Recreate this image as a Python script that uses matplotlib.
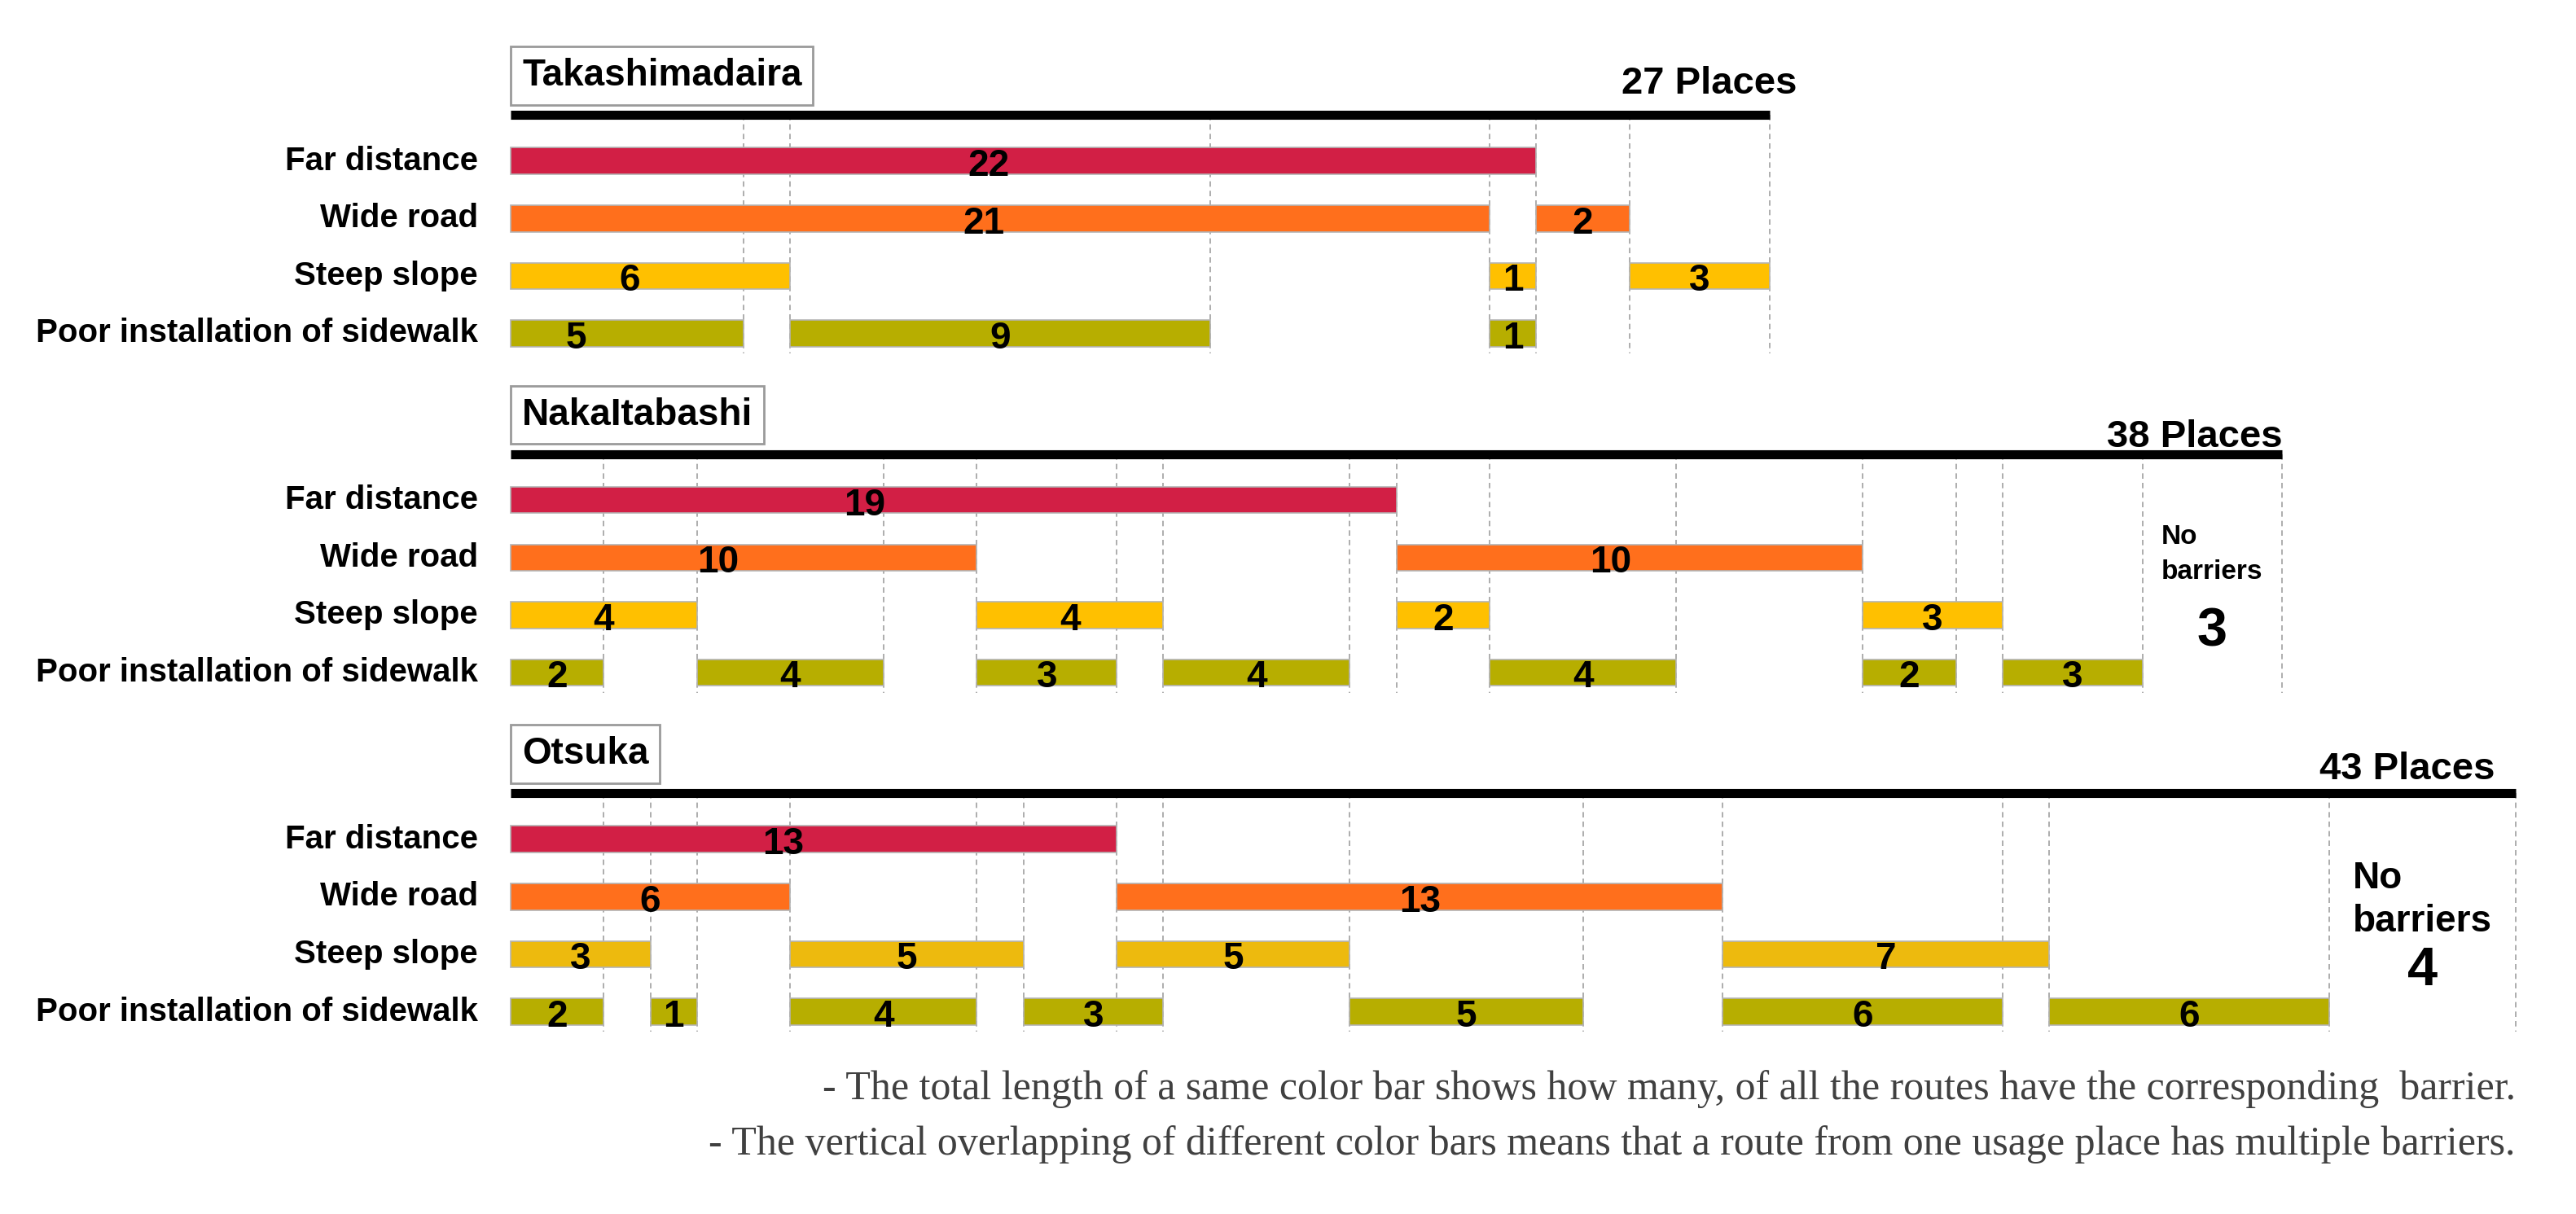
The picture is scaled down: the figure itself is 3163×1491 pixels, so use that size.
import matplotlib.pyplot as plt

plt.rcParams['font.family'] = ['Liberation Sans', 'DejaVu Sans']

categories = ["Far distance", "Wide road", "Steep slope", "Poor installation of sidewalk"]
stations = ["Takashimadaira", "NakaItabashi", "Otsuka"]
totals = [27, 38, 43]
no_barriers = [0, 3, 4]

# (start, count) of every bar piece, one list per barrier
tak_far = [(0, 22)]
tak_wide = [(0, 21), (22, 2)]
tak_steep = [(0, 6), (21, 1), (24, 3)]
tak_poor = [(0, 5), (6, 9), (21, 1)]

nak_far = [(0, 19)]
nak_wide = [(0, 10), (19, 10)]
nak_steep = [(0, 4), (10, 4), (19, 2), (29, 3)]
nak_poor = [(0, 2), (4, 4), (10, 3), (14, 4), (21, 4), (29, 2), (32, 3)]

ots_far = [(0, 13)]
ots_wide = [(0, 6), (13, 13)]
ots_steep = [(0, 3), (6, 5), (13, 5), (26, 7)]
ots_poor = [(0, 2), (3, 1), (6, 4), (11, 3), (18, 5), (26, 6), (33, 6)]

panels = [
    [tak_far, tak_wide, tak_steep, tak_poor],
    [nak_far, nak_wide, nak_steep, nak_poor],
    [ots_far, ots_wide, ots_steep, ots_poor],
]

notes = [
    "- The total length of a same color bar shows how many, of all the routes have the corresponding  barrier.",
    "- The vertical overlapping of different color bars means that a route from one usage place has multiple barriers.",
]

# styling
colors = ["#D21F45", "#FF6F1C", "#FFC000", "#B7AE00"]
otsuka_yellow = "#EDBA0E"
bases = [0, 5.9, 11.8]
nudges = {(0, 0, 0): -0.75, (0, 1, 0): -0.35, (0, 2, 0): -0.45, (0, 3, 0): -1.1,
          (1, 0, 0): -1.9, (1, 1, 0): -0.55, (1, 1, 1): -0.4, (2, 0, 0): -0.65}
places_dx = [0.6, 0.0, -0.43]
places_dy = [-1.17, -0.93, -1.05]
nb_size = [0, 24, 33]
nb_spacing = [1, 1.5, 1.25]
nb_y = [0, 0.95, 1.06]

fig = plt.figure(figsize=(31.63, 14.91), dpi=100)
ax = fig.add_axes([0, 0, 1, 1])
ax.set_xlim(-10.95, 44.30)
ax.set_ylim(18.32, -2.80)
ax.axis('off')

for p, rows in enumerate(panels):
    base = bases[p]
    total = totals[p]
    bounds = {total}
    for i, segs in enumerate(rows):
        c = colors[i]
        if p == 2 and i == 2:
            c = otsuka_yellow
        starts = [s for s, n in segs]
        widths = [n for s, n in segs]
        ax.barh([base + i] * len(segs), widths, left=starts, height=0.46,
                color=c, edgecolor='#b4b4b4', linewidth=1.2, zorder=2)
        for k, (s, n) in enumerate(segs):
            ax.text(s + n / 2 + nudges.get((p, i, k), 0), base + i + 0.09, str(n),
                    ha='center', va='center', fontsize=33, fontweight='bold', zorder=3)
            bounds.update([s, s + n])
        ax.text(-0.7, base + i, categories[i], ha='right', va='center',
                fontsize=29, fontweight='bold')
    bounds.discard(0)
    ax.vlines(sorted(bounds), base - 0.8, base + 3.35, colors='#a0a0a0',
              linestyles=(0, (4, 3)), linewidth=1.2, zorder=1)
    ax.hlines(base - 0.8, 0, total, colors='black', linewidth=8, zorder=3)
    ax.text(0.25, base - 1.48, stations[p], ha='left', va='center', fontsize=33,
            fontweight='bold',
            bbox=dict(boxstyle='square,pad=0.3', fc='white', ec='#9a9a9a', lw=2))
    ax.text(total + places_dx[p], base + places_dy[p], f"{total} Places", ha='right',
            va='baseline', fontsize=34, fontweight='bold')
    nb = no_barriers[p]
    if nb:
        ax.text(total - nb / 2, base + nb_y[p], "No\nbarriers", ha='center', va='center',
                multialignment='left', linespacing=nb_spacing[p],
                fontsize=nb_size[p], fontweight='bold')
        ax.text(total - nb / 2, base + 2.3, str(nb), ha='center', va='center',
                fontsize=48, fontweight='bold')

for j, line in enumerate(notes):
    ax.text(43.0, 16.14 + 0.97 * j, line, ha='right', va='center',
            family=['Liberation Serif', 'DejaVu Serif'], fontsize=36, color='#404040')

fig.savefig('out.png', dpi=100)
